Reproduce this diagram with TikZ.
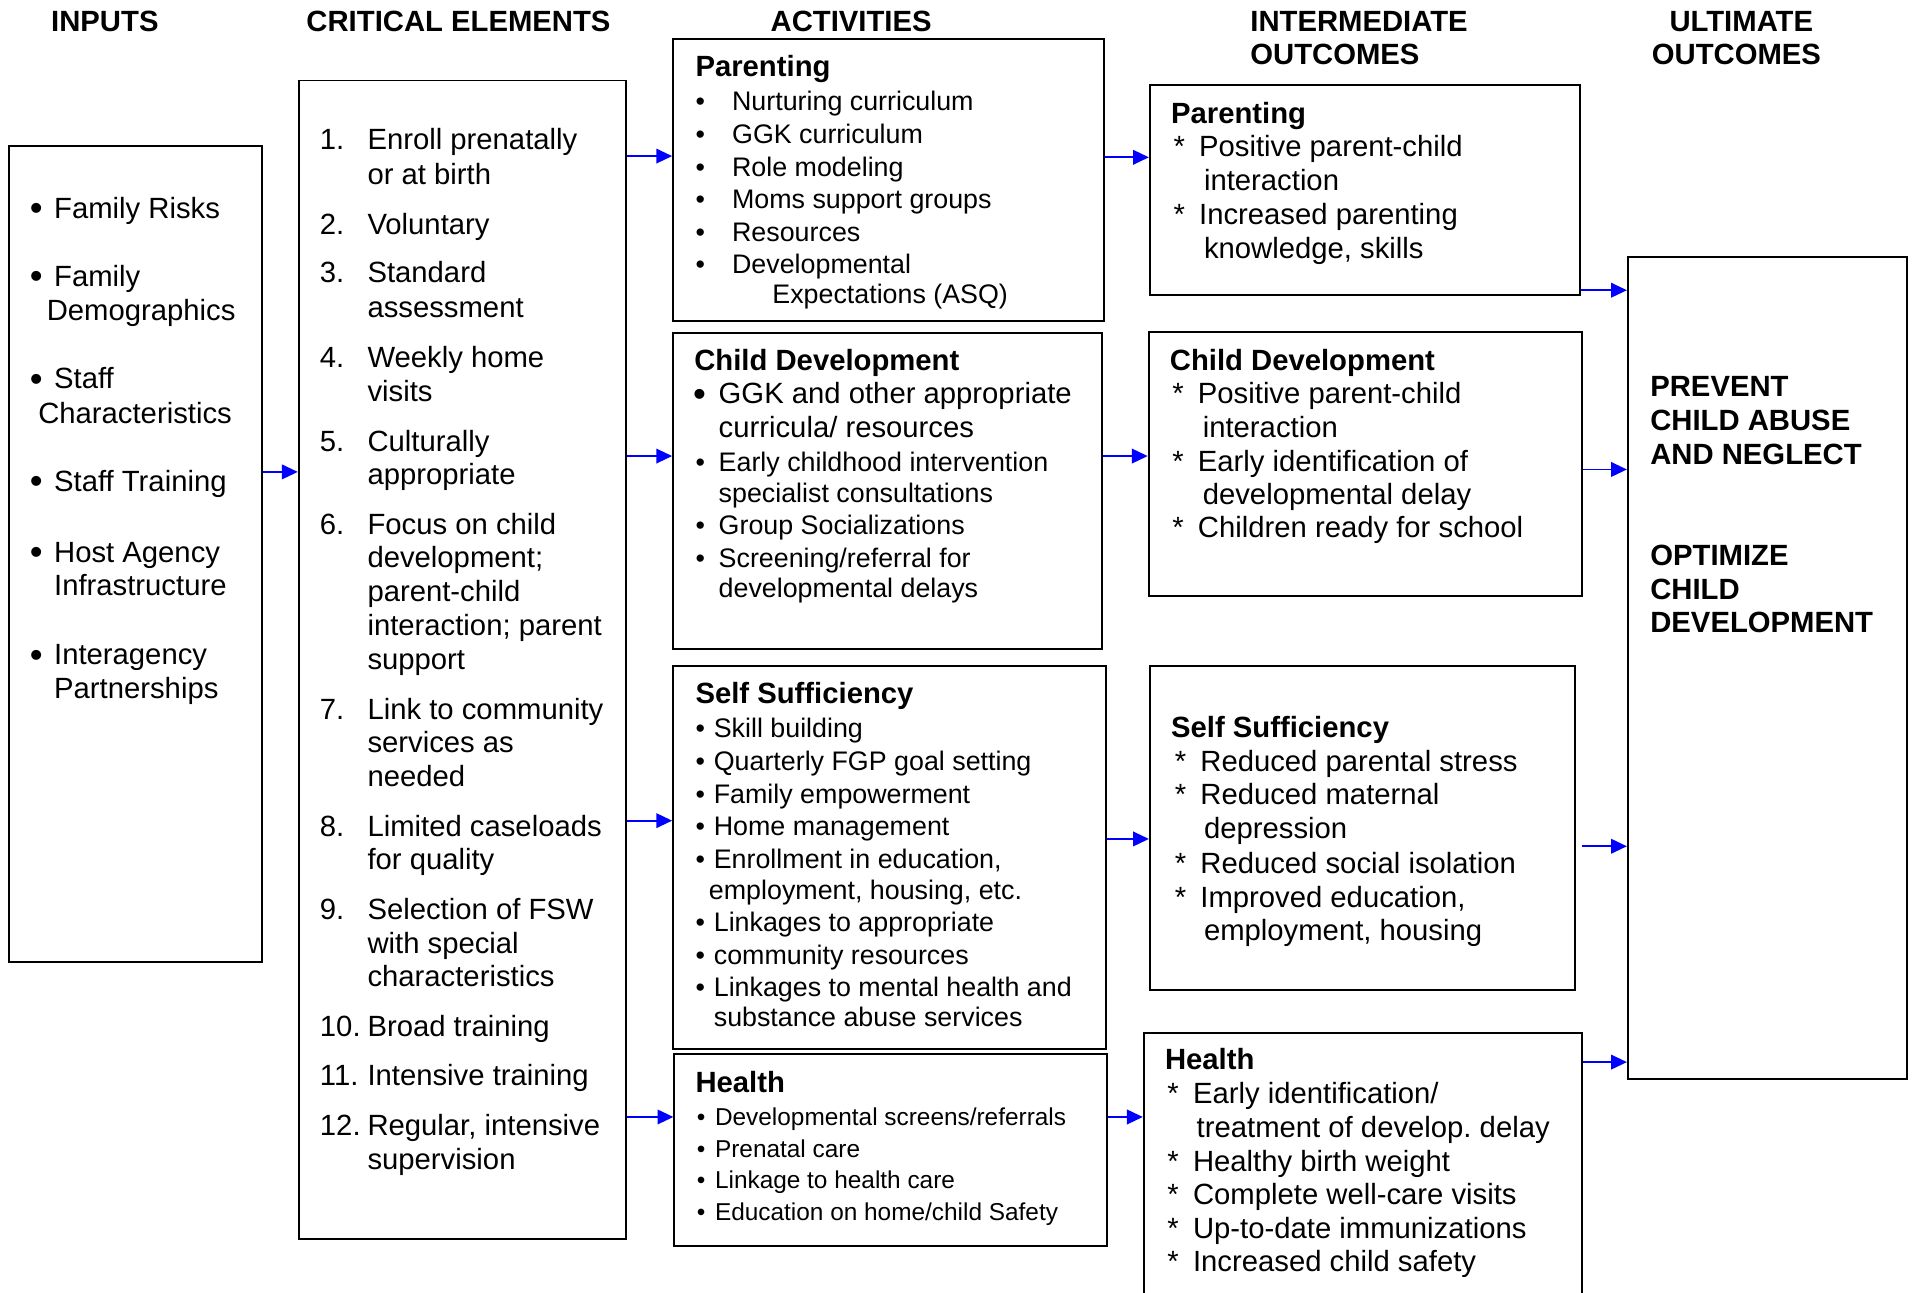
\documentclass[tikz,border=0pt]{standalone}
\usepackage{fontspec}
\setmainfont{Liberation Sans}
\usetikzlibrary{arrows.meta,fit}
\definecolor{linkblue}{RGB}{0,0,255}
\newcommand\bigbul{\raisebox{-1pt}{\fontsize{15}{15}\selectfont\textbullet}}
\frenchspacing
\begin{document}
\begin{tikzpicture}[x=0.5pt,y=-0.5pt,
  box/.style={draw=black,line width=0.8pt,inner sep=0pt},
  arr/.style={draw=linkblue,line width=0.7pt,-{Triangle[length=6.5pt,width=6pt]}},
  tA/.style={anchor=base west,inner sep=0pt,font=\fontsize{12}{14}\selectfont},
  tB/.style={anchor=base west,inner sep=0pt,font=\fontsize{11}{13}\selectfont},
  tC/.style={anchor=base west,inner sep=0pt,font=\fontsize{10}{12}\selectfont},
  hd/.style={inner sep=0pt,font=\bfseries\fontsize{12}{14}\selectfont},
]
\clip (0,0) rectangle (1568,1060);

% column headers
\node[hd,anchor=base] (hIn) at (86,26) {INPUTS};
\node[hd,anchor=base] (hCr) at (376,26) {CRITICAL ELEMENTS};
\node[hd,anchor=base] (hAc) at (698,26) {ACTIVITIES};
\node[hd,anchor=base west] (hImA) at (1025,26) {INTERMEDIATE};
\node[hd,anchor=base west] (hImB) at (1025,53) {OUTCOMES};
\node[hd,anchor=base] (hUlA) at (1428,26) {ULTIMATE};
\node[hd,anchor=base] (hUlB) at (1424,53) {OUTCOMES};

% boxes
\node[box,fit={(7,120) (215,789)}] (inp) {};
\node[box,fit={(245,66) (513,1016)}] (crit) {};
\node[box,fit={(552,32) (905,263)}] (actP) {};
\node[box,fit={(552,273) (904,532)}] (actC) {};
\node[box,fit={(552,546) (907,860)}] (actS) {};
\node[box,fit={(553,864) (908,1022)}] (actH) {};
\node[box,fit={(943,70) (1296,242)}] (ioP) {};
\node[box,fit={(942,272) (1297,489)}] (ioC) {};
\node[box,fit={(943,546) (1292,812)}] (ioS) {};
\node[box,fit={(938,847) (1297,1090)}] (ioH) {};
\node[box,fit={(1335,211) (1564,885)}] (ult) {};

% arrows
\coordinate (yA) at (0,387);
\coordinate (yB) at (0,128);
\coordinate (yC) at (0,374);
\coordinate (yD) at (0,673);
\coordinate (yE) at (0,916);
\coordinate (yF) at (0,129);
\coordinate (yG) at (0,688);
\coordinate (yH) at (0,238);
\coordinate (yI) at (0,385);
\coordinate (yJ) at (0,694);
\coordinate (yK) at (0,871);
\coordinate (sS) at (1297,694);
\draw[arr] (inp.east |- yA) -- (crit.west |- yA);
\draw[arr] (crit.east |- yB) -- (actP.west |- yB);
\draw[arr] (crit.east |- yC) -- (actC.west |- yC);
\draw[arr] (crit.east |- yD) -- (actS.west |- yD);
\draw[arr] (crit.east |- yE) -- (actH.west |- yE);
\draw[arr] (actP.east |- yF) -- (ioP.west |- yF);
\draw[arr] (actC.east |- yC) -- (ioC.west |- yC);
\draw[arr] (actS.east |- yG) -- (ioS.west |- yG);
\draw[arr] (actH.east |- yE) -- (ioH.west |- yE);
\draw[arr] (ioP.east |- yH) -- (ult.west |- yH);
\draw[arr] (ioC.east |- yI) -- (ult.west |- yI);
\draw[arr] (sS) -- (ult.west |- yJ);
\draw[arr] (ioH.east |- yK) -- (ult.west |- yK);

% inputs
\foreach \x/\y/\s [count=\i] in {24/179/{\bigbul}, 44/179/{Family Risks},
  24/235/{\bigbul}, 44/235/{Family}, 38/263/{Demographics},
  24/319/{\bigbul}, 44/319/{Staff}, 31/347/{Characteristics},
  24/403/{\bigbul}, 44/403/{Staff Training},
  24/461/{\bigbul}, 44/461/{Host Agency}, 44/488/{Infrastructure},
  24/545/{\bigbul}, 44/545/{Interagency}, 44/573/{Partnerships}}
  \node[tA] (in\i) at (\x,\y) {\s};

% critical elements
\foreach \x/\y/\s [count=\i] in {262/123/{1.}, 301/123/{Enroll prenatally}, 301/151/{or at birth},
  262/192/{2.}, 301/192/{Voluntary},
  262/232/{3.}, 301/232/{Standard}, 301/260/{assessment},
  262/301/{4.}, 301/301/{Weekly home}, 301/329/{visits},
  262/370/{5.}, 301/370/{Culturally}, 301/397/{appropriate},
  262/438/{6.}, 301/438/{Focus on child}, 301/465/{development;}, 301/493/{parent-child},
  301/521/{interaction; parent}, 301/549/{support},
  262/590/{7.}, 301/590/{Link to community}, 301/617/{services as}, 301/645/{needed},
  262/686/{8.}, 301/686/{Limited caseloads}, 301/713/{for quality},
  262/754/{9.}, 301/754/{Selection of FSW}, 301/782/{with special}, 301/809/{characteristics},
  262/850/{10.}, 301/850/{Broad training},
  262/890/{11.}, 301/890/{Intensive training},
  262/931/{12.}, 301/931/{Regular, intensive}, 301/959/{supervision}}
  \node[tA] (cr\i) at (\x,\y) {\s};

% activities: parenting
\node[hd,anchor=base west] (aPt) at (570,63) {Parenting};
\foreach \x/\y/\s [count=\i] in {570/91/{\textbullet}, 600/91/{Nurturing curriculum},
  570/118/{\textbullet}, 600/118/{GGK curriculum},
  570/145/{\textbullet}, 600/145/{Role modeling},
  570/171/{\textbullet}, 600/171/{Moms support groups},
  570/198/{\textbullet}, 600/198/{Resources},
  570/224/{\textbullet}, 600/224/{Developmental}, 633/249/{Expectations (ASQ)}}
  \node[tB] (aP\i) at (\x,\y) {\s};

% activities: child development
\node[hd,anchor=base west] (aCt) at (569,304) {Child Development};
\foreach \x/\y/\s [count=\i] in {568/331/{\bigbul}, 589/331/{GGK and other appropriate},
  589/359/{curricula/ resources}}
  \node[tA] (aCa\i) at (\x,\y) {\s};
\foreach \x/\y/\s [count=\i] in {570/387/{\textbullet}, 589/387/{Early childhood intervention},
  589/412/{specialist consultations},
  570/438/{\textbullet}, 589/438/{Group Socializations},
  570/465/{\textbullet}, 589/465/{Screening/referral for}, 589/490/{developmental delays}}
  \node[tB] (aCb\i) at (\x,\y) {\s};

% activities: self sufficiency
\node[hd,anchor=base west] (aSt) at (570,577) {Self Sufficiency};
\foreach \x/\y/\s [count=\i] in {570/605/{\textbullet}, 585/605/{Skill building},
  570/632/{\textbullet}, 585/632/{Quarterly FGP goal setting},
  570/659/{\textbullet}, 585/659/{Family empowerment},
  570/685/{\textbullet}, 585/685/{Home management},
  570/712/{\textbullet}, 585/712/{Enrollment in education,}, 581/738/{employment, housing, etc.},
  570/764/{\textbullet}, 585/764/{Linkages to appropriate},
  570/791/{\textbullet}, 585/791/{community resources},
  570/817/{\textbullet}, 585/817/{Linkages to mental health and}, 585/842/{substance abuse services}}
  \node[tB] (aS\i) at (\x,\y) {\s};

% activities: health
\node[hd,anchor=base west] (aHt) at (570,896) {Health};
\foreach \x/\y/\s [count=\i] in {571/923/{\textbullet}, 586/923/{Developmental screens/referrals},
  571/949/{\textbullet}, 586/949/{Prenatal care},
  571/975/{\textbullet}, 586/975/{Linkage to health care},
  571/1001/{\textbullet}, 586/1001/{Education on home/child Safety}}
  \node[tC] (aH\i) at (\x,\y) {\s};

% intermediate: parenting
\node[hd,anchor=base west] (iPt) at (960,101) {Parenting};
\foreach \x/\y/\s [count=\i] in {962/128/{*}, 983/128/{Positive parent-child}, 987/156/{interaction},
  962/184/{*}, 983/184/{Increased parenting}, 987/212/{knowledge, skills}}
  \node[tA] (iP\i) at (\x,\y) {\s};

% intermediate: child development
\node[hd,anchor=base west] (iCt) at (959,304) {Child Development};
\foreach \x/\y/\s [count=\i] in {961/331/{*}, 982/331/{Positive parent-child}, 986/359/{interaction},
  961/387/{*}, 982/387/{Early identification of}, 986/414/{developmental delay},
  961/441/{*}, 982/441/{Children ready for school}}
  \node[tA] (iC\i) at (\x,\y) {\s};

% intermediate: self sufficiency
\node[hd,anchor=base west] (iSt) at (960,605) {Self Sufficiency};
\foreach \x/\y/\s [count=\i] in {963/633/{*}, 984/633/{Reduced parental stress},
  963/660/{*}, 984/660/{Reduced maternal}, 987/688/{depression},
  963/716/{*}, 984/716/{Reduced social isolation},
  963/744/{*}, 984/744/{Improved education,}, 987/771/{employment, housing}}
  \node[tA] (iS\i) at (\x,\y) {\s};

% intermediate: health
\node[hd,anchor=base west] (iHt) at (955,877) {Health};
\foreach \x/\y/\s [count=\i] in {957/905/{*}, 978/905/{Early identification/}, 981/933/{treatment of develop. delay},
  957/961/{*}, 978/961/{Healthy birth weight},
  957/988/{*}, 978/988/{Complete well-care visits},
  957/1016/{*}, 978/1016/{Up-to-date immunizations},
  957/1043/{*}, 978/1043/{Increased child safety}}
  \node[tA] (iH\i) at (\x,\y) {\s};

% ultimate outcomes
\foreach \y/\s [count=\i] in {325/{PREVENT}, 353/{CHILD ABUSE}, 381/{AND NEGLECT},
  464/{OPTIMIZE}, 492/{CHILD}, 519/{DEVELOPMENT}}
  \node[hd,anchor=base west] (u\i) at (1353,\y) {\s};
\end{tikzpicture}
\end{document}
